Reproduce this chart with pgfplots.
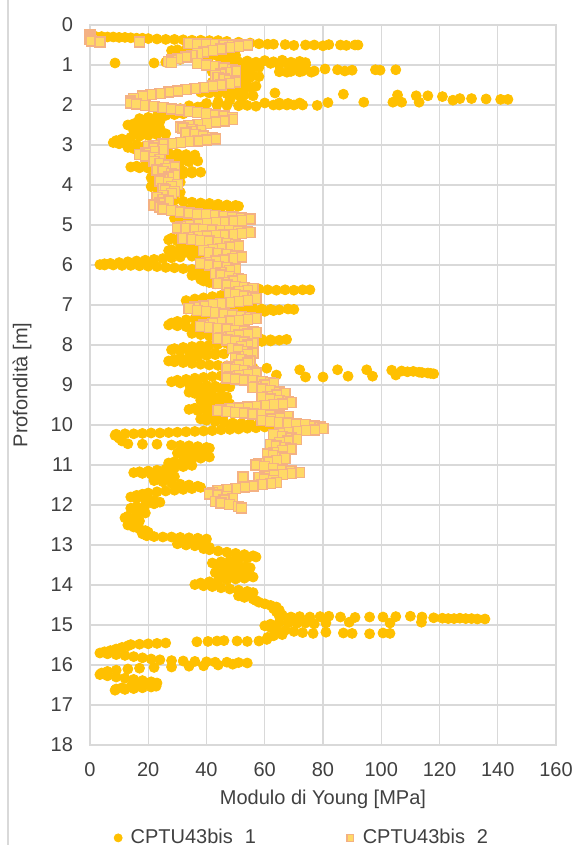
\documentclass[border=0pt]{standalone}
\usepackage{pgfplots}
\pgfplotsset{compat=1.18}
\usepackage{fontspec}
\setmainfont{Liberation Sans}
\definecolor{sone}{HTML}{FFC000}
\definecolor{stwofill}{HTML}{FFD966}
\definecolor{stwoedge}{HTML}{F4B183}
\definecolor{gridc}{HTML}{D9D9D9}
\definecolor{txt}{HTML}{404040}
\begin{document}
\begin{tikzpicture}
\useasboundingbox (-45pt,-50pt) rectangle (243pt,372.5pt);
\draw[gridc, line width=0.6pt] (-41pt,-50pt) -- (-41pt,372.5pt);
\begin{axis}[
 at={(0,0)}, anchor=south west,
 scale only axis, width=233pt, height=360pt,
 xmin=0, xmax=160, ymin=0, ymax=18, y dir=reverse,
 xtick={0,20,...,160}, ytick={0,1,...,18},
 grid=major, major grid style={draw=gridc, line width=0.6pt},
 axis line style={draw=gridc, line width=0.6pt},
 tick style={draw=none},
 /pgf/number format/assume math mode=true,
 ticklabel style={font=\fontsize{10}{12}\selectfont, text=txt},
 xticklabel style={yshift=-5pt},
 yticklabel style={xshift=-5pt},
 xlabel={Modulo di Young [MPa]}, ylabel={Profondità [m]},
 label style={font=\fontsize{10}{12}\selectfont, text=txt},
 xlabel style={at={(axis description cs:0.5,0)}, anchor=center, yshift=-27pt},
 ylabel style={at={(axis description cs:0,0.5)}, anchor=center, yshift=34pt},
 legend columns=2,
 legend style={at={(axis description cs:0.457,-0.129)}, anchor=center, draw=none, fill=none,
   font=\fontsize{10}{12}\selectfont, text=txt,
   /tikz/every even column/.append style={column sep=43pt}},
 legend image code/.code={\draw[#1] plot coordinates {(0pt,0pt)}; \path (-2pt,0pt) (4pt,0pt);},
 legend cell align=left,
]
\addplot[only marks, mark=*, mark size=2.5pt, mark options={draw=sone, fill=sone}, legend image post style={mark size=2pt}] table {
x y
0 0.28
1 0.28
2 0.29
4 0.29
6 0.30
8 0.30
10 0.31
12 0.31
14 0.32
16 0.33
18 0.33
20 0.34
23 0.35
26 0.36
29 0.36
32 0.37
35 0.38
38 0.38
41 0.39
44 0.39
47 0.41
51 0.43
55 0.45
58 0.47
61 0.48
63 0.48
67 0.49
70 0.51
74 0.50
77 0.50
80 0.52
82 0.49
86 0.50
88 0.51
91 0.50
92 0.50
48 0.55
45 0.56
42 0.57
39 0.58
36 0.60
33 0.61
30 0.62
28 0.64
30 0.66
33 0.67
36 0.69
39 0.70
42 0.71
45 0.73
48 0.74
50 0.76
47 0.77
44 0.78
41 0.79
38 0.80
35 0.81
32 0.82
29 0.84
31 0.86
8.6 0.95
22 0.95
26 0.93
45 0.90
48 0.88
51 0.92
54 0.90
57 0.93
60 0.89
63 0.92
66 0.88
69 0.93
72 0.91
74 0.94
55 0.97
58 1.00
62 0.96
65 1.00
68 0.98
71 1.02
74 1.00
65 1.17
67.6 1.18
69 1.16
72 1.17
73 1.15
76 1.18
77 1.15
80.7 1.10
85 1.12
87.5 1.15
90 1.13
98 1.12
99.6 1.13
105 1.12
50 1.00
53 1.02
56 1.04
58 1.06
55 1.08
52 1.10
49 1.11
46 1.13
43 1.15
42 1.17
44 1.19
47 1.20
50 1.22
53 1.24
56 1.26
58 1.29
55 1.31
52 1.33
49 1.35
46 1.38
43 1.40
42 1.43
45 1.45
48 1.47
51 1.49
54 1.51
57 1.53
55 1.56
52 1.58
49 1.60
46 1.62
43 1.64
40 1.66
38 1.68
41 1.70
44 1.71
47 1.72
50 1.73
53 1.75
56 1.77
63.5 1.70
60 1.95
65 1.95
68 1.96
72 1.95
81.7 1.94
87 1.73
94 1.93
104 1.93
105.6 1.75
107 1.93
112 1.77
113 1.93
116 1.77
121 1.79
124.6 1.88
127 1.84
131 1.84
136 1.85
141 1.86
143.5 1.86
34 2.02
39 2.03
43.6 2.00
47 2.01
51 2.02
54 2.01
57 2.03
63 2.00
65 2.00
67.6 2.00
70 2.00
73 2.00
78 2.01
52 1.85
48 1.88
44 1.92
40 1.96
37 2.05
34 2.07
31 2.09
28 2.12
25 2.15
27 2.18
30 2.20
32 2.22
29 2.24
26 2.26
23 2.28
20 2.31
17 2.34
19 2.37
22 2.39
24 2.41
21 2.43
18 2.45
15 2.47
13 2.50
15 2.52
18 2.54
21 2.56
24 2.58
21 2.60
18 2.62
15 2.64
17 2.66
20 2.68
23 2.70
26 2.72
23 2.74
20 2.76
17 2.78
14 2.81
11 2.85
9 2.89
8 2.94
10 2.97
13 2.99
16 3.00
19 3.02
16 3.04
13 3.06
15 3.09
18 3.12
21 3.15
24 3.18
27 3.20
30 3.22
33 3.24
36 3.25
33 3.27
30 3.29
27 3.31
25 3.33
28 3.35
31 3.36
34 3.38
37 3.40
34 3.42
31 3.43
28 3.45
25 3.47
22 3.49
19 3.51
16 3.53
14 3.55
17 3.57
20 3.58
23 3.60
26 3.61
29 3.63
32 3.65
35 3.66
38 3.68
35 3.70
32 3.72
29 3.74
26 3.76
23 3.79
21 3.82
23 3.85
26 3.88
29 3.91
31 3.93
28 3.96
25 3.98
22 4.01
21 4.04
23 4.07
26 4.10
29 4.14
31 4.18
28 4.22
25 4.26
24 4.30
26 4.34
29 4.38
32 4.41
35 4.43
38 4.45
41 4.46
44 4.48
47 4.50
50 4.51
51 4.53
48 4.55
45 4.56
42 4.57
39 4.59
36 4.60
33 4.62
30 4.64
28 4.66
30 4.69
33 4.72
35 4.75
32 4.79
29 4.83
31 4.88
34 4.93
36 4.98
34 5.03
32 5.08
34 5.13
36 5.17
37 5.21
34 5.25
31 5.29
28 5.33
27 5.37
30 5.40
33 5.43
36 5.46
39 5.49
40 5.51
37 5.54
34 5.57
31 5.60
28 5.62
27 5.64
30 5.66
33 5.68
36 5.70
39 5.72
41 5.74
38 5.76
35 5.78
31 5.80
28 5.82
25 5.84
22 5.86
19 5.88
16 5.90
13 5.92
10 5.94
7 5.96
5 5.97
3.4 5.99
5 6.00
8 6.00
11 6.01
14 6.01
17 6.02
20 6.03
23 6.04
26 6.06
29 6.07
32 6.09
35 6.11
38 6.13
41 6.15
42 6.17
39 6.20
36 6.23
35 6.26
38 6.29
40 6.32
38 6.36
39 6.40
41 6.44
43 6.47
46 6.50
49 6.53
52 6.56
55 6.58
58 6.60
61 6.62
64 6.63
67 6.62
70 6.63
73 6.62
75.5 6.62
57 6.65
54 6.68
51 6.71
48 6.74
45 6.76
42 6.79
39 6.82
36 6.85
33 6.89
35 6.93
38 6.97
41 7.00
44 7.02
47 7.04
50 7.06
53 7.07
56 7.08
59 7.10
62 7.11
65 7.12
68 7.10
70 7.11
63 7.14
60 7.16
57 7.18
54 7.20
51 7.21
48 7.23
45 7.25
42 7.28
39 7.31
36 7.34
33 7.37
30 7.41
28 7.45
27 7.50
30 7.52
33 7.54
36 7.55
39 7.56
42 7.57
45 7.58
43 7.61
40 7.64
37 7.67
35 7.71
38 7.74
41 7.77
44 7.79
47 7.81
50 7.83
53 7.84
56 7.85
59 7.86
62 7.87
65 7.88
67.5 7.86
62 7.90
59 7.91
56 7.92
53 7.93
50 7.95
47 7.96
44 7.98
41 8.00
38 8.02
35 8.04
32 8.06
29 8.09
28 8.12
31 8.14
34 8.16
37 8.18
40 8.19
43 8.20
46 8.22
43 8.24
40 8.26
37 8.28
34 8.30
31 8.33
29 8.36
27 8.40
29 8.42
32 8.44
35 8.46
38 8.48
41 8.50
44 8.51
47 8.52
50 8.54
53 8.55
56 8.57
60.7 8.58
64 8.75
72 8.62
74 8.80
80 8.80
85 8.62
88.6 8.78
95 8.62
97 8.78
103.6 8.63
105 8.75
107 8.65
109 8.67
111 8.66
113 8.68
114 8.69
116 8.70
117 8.71
118 8.72
55 8.70
51 8.73
48 8.75
45 8.77
42 8.79
39 8.81
36 8.83
33 8.86
30 8.88
28 8.92
31 8.95
34 8.97
37 8.99
40 9.01
43 9.03
46 9.04
48 9.05
45 9.08
42 9.11
39 9.13
36 9.15
34 9.18
36 9.21
39 9.23
42 9.26
45 9.28
47 9.30
44 9.33
41 9.35
38 9.38
40 9.41
43 9.43
46 9.45
48 9.47
45 9.50
42 9.53
39 9.55
36 9.58
34 9.61
37 9.64
40 9.67
43 9.70
46 9.73
44 9.77
41 9.81
38 9.85
40 9.88
43 9.91
46 9.93
49 9.95
52 9.96
55 9.97
58 9.98
61 10.00
63 10.03
60 10.05
57 10.07
54 10.08
51 10.10
48 10.11
45 10.12
42 10.14
39 10.15
36 10.16
33 10.17
30 10.18
27 10.19
24 10.20
21 10.20
18 10.21
15 10.22
12 10.22
9 10.23
8.6 10.26
10 10.33
11 10.40
13 10.47
18 10.48
23 10.48
28 10.50
31 10.51
34 10.52
37 10.54
40 10.56
41 10.58
38 10.61
35 10.64
32 10.67
30 10.70
33 10.73
36 10.76
39 10.78
41 10.80
38 10.83
35 10.86
32 10.89
29 10.92
27 10.95
30 10.97
33 10.99
35 11.01
32 11.04
29 11.07
26 11.10
23 11.13
20 11.15
17 11.17
15 11.19
18 11.21
21 11.23
24 11.25
27 11.27
29 11.29
26 11.32
23 11.36
22 11.39
25 11.42
28 11.45
31 11.48
34 11.50
37 11.53
38 11.56
35 11.59
32 11.61
29 11.63
26 11.65
23 11.67
20 11.70
18 11.73
16 11.76
14 11.80
16 11.83
19 11.86
22 11.89
24 11.93
22 11.97
19 12.00
16 12.04
14 12.08
16 12.12
18 12.16
19 12.20
16 12.24
13 12.28
12 12.32
14 12.36
17 12.40
15 12.45
13 12.50
15 12.55
17 12.60
19 12.64
20 12.68
18 12.72
19.5 12.77
22 12.79
25 12.80
28 12.80
31 12.81
34 12.82
37 12.83
40 12.85
37 12.88
34 12.91
31 12.94
30 12.97
33 13.00
36 13.02
39 13.04
41 13.06
39 13.09
41 13.12
44 13.15
47 13.18
50 13.21
53 13.24
56 13.27
57 13.30
54 13.33
51 13.36
48 13.39
45 13.42
42 13.45
44 13.48
47 13.50
50 13.52
53 13.55
55 13.57
52 13.60
49 13.63
46 13.66
43 13.69
45 13.72
48 13.74
51 13.76
54 13.78
56 13.80
53 13.83
50 13.85
47 13.87
44 13.89
41 13.92
38 13.95
36 13.99
39 14.02
42 14.04
45 14.07
48 14.10
51 14.13
54 14.16
56 14.19
54 14.23
51 14.27
53 14.31
56 14.35
57 14.39
58 14.43
60 14.47
62 14.51
64 14.55
63 14.59
65 14.63
64 14.67
65 14.71
66 14.75
65 14.78
69 14.80
72 14.79
75.5 14.80
79 14.79
82 14.78
86 14.80
91 14.81
96 14.80
100.6 14.80
105 14.79
110 14.78
114 14.80
118 14.82
121 14.83
123 14.84
125 14.84
127 14.83
129 14.84
131 14.84
133 14.85
135.6 14.85
65 14.93
68 14.95
71 14.96
74 14.95
77 14.97
81 14.95
89 14.93
103 14.95
113.8 14.93
62 14.98
60 15.02
62 15.06
64 15.10
67 15.13
70 15.16
73 15.19
76.6 15.21
81 15.18
87 15.20
90 15.21
96 15.22
100.6 15.20
103 15.21
66 15.24
63 15.27
61 15.31
60.7 15.36
58 15.40
54 15.41
50.5 15.40
46 15.39
43.6 15.40
40.5 15.41
36.7 15.42
26 15.45
23 15.46
20 15.47
17 15.48
14 15.49
13 15.52
11 15.56
9 15.60
7 15.64
5 15.67
3.4 15.70
6 15.72
9 15.74
12 15.76
15 15.79
18 15.82
21 15.85
24 15.87
28 15.89
32 15.90
36 15.91
40 15.92
43 15.93
47 15.93
51 15.94
54 15.95
49 15.98
44 16.00
39 16.02
34 16.03
28 16.05
22 16.06
17 16.08
13 16.10
9 16.13
6 16.16
4 16.20
3.4 16.24
6 16.27
9 16.30
12 16.33
15 16.36
18 16.39
21 16.42
23 16.45
20 16.48
17 16.51
14 16.54
11 16.57
9 16.60
8.6 16.63
12 16.61
15 16.59
18 16.57
21 16.55
22.7 16.53
};
\addlegendentry{CPTU43bis\hspace{0.6em}1}
\addplot[only marks, mark=square*, mark size=2.5pt, mark options={fill=stwofill, draw=stwoedge, line width=0.7pt}, legend image post style={mark size=1.7pt}] table {
x y
0 0.25
0 0.30
0 0.35
0.5 0.40
3.4 0.43
17 0.43
34 0.47
37 0.48
40 0.48
43 0.49
46 0.50
49 0.50
52 0.50
54 0.50
51 0.54
48 0.57
45 0.60
42 0.64
39 0.68
37 0.72
35 0.76
33 0.80
30 0.84
28 0.88
27 0.91
28 0.94
37 0.97
40 1.00
43 1.04
46 1.08
49 1.12
50 1.15
47 1.19
45 1.23
43 1.27
44 1.31
46 1.35
48 1.39
50 1.43
48 1.47
45 1.50
42 1.53
39 1.56
36 1.59
33 1.62
30 1.65
27 1.68
24 1.71
21 1.74
18 1.78
15 1.84
14 1.90
14 1.95
16 1.98
19 2.01
22 2.04
25 2.07
28 2.10
31 2.13
34 2.16
37 2.19
40 2.22
43 2.25
46 2.28
49 2.31
49 2.36
46 2.40
43 2.43
40 2.46
37 2.49
34 2.52
31 2.55
32 2.58
35 2.61
38 2.64
35 2.67
33 2.70
36 2.74
39 2.78
42 2.82
43 2.85
40 2.88
37 2.90
34 2.92
31 2.94
28 2.96
25 2.98
22 3.01
20 3.04
22 3.08
25 3.12
22 3.16
19 3.20
17 3.24
19 3.28
22 3.32
24 3.36
22 3.41
24 3.46
27 3.50
29 3.55
26 3.59
23 3.63
25 3.67
28 3.71
29 3.75
27 3.80
25 3.85
24 3.90
27 3.94
30 3.98
28 4.03
25 4.08
26 4.12
29 4.16
28 4.21
25 4.26
23 4.31
25 4.36
27 4.40
24 4.45
22 4.50
24 4.55
25 4.60
28 4.64
31 4.67
34 4.70
37 4.72
40 4.74
43 4.76
46 4.78
49 4.80
52 4.82
55 4.85
52 4.88
49 4.90
46 4.92
43 4.94
40 4.96
37 4.98
34 5.01
31 5.04
30 5.07
33 5.09
36 5.10
39 5.11
42 5.12
45 5.13
48 5.14
51 5.15
54 5.17
55 5.19
52 5.21
49 5.23
46 5.25
43 5.26
40 5.27
37 5.29
34 5.31
32 5.33
35 5.36
38 5.38
41 5.40
44 5.43
47 5.46
50 5.49
51 5.52
48 5.55
45 5.58
42 5.61
39 5.64
41 5.68
44 5.71
47 5.74
50 5.77
52 5.80
49 5.84
46 5.87
43 5.90
40 5.93
38 5.96
41 6.00
44 6.03
47 6.06
50 6.10
48 6.14
45 6.18
43 6.21
45 6.25
48 6.29
51 6.33
52 6.36
49 6.40
46 6.43
44 6.46
47 6.50
50 6.53
53 6.56
56 6.59
54 6.63
51 6.66
48 6.70
50 6.74
53 6.77
56 6.80
57 6.84
54 6.88
51 6.91
48 6.94
45 6.96
42 6.99
39 7.02
36 7.05
34 7.09
37 7.13
40 7.16
43 7.19
46 7.22
49 7.25
52 7.28
55 7.31
57 7.33
54 7.36
51 7.38
48 7.40
45 7.43
42 7.46
39 7.50
38 7.53
41 7.56
44 7.58
47 7.60
50 7.63
53 7.65
56 7.67
57 7.69
54 7.72
51 7.75
48 7.78
45 7.81
44 7.84
47 7.87
50 7.90
53 7.92
56 7.96
54 8.00
52 8.04
49 8.08
51 8.12
54 8.16
56 8.20
54 8.24
51 8.28
50 8.32
52 8.36
55 8.40
54 8.45
51 8.50
48 8.55
47 8.58
50 8.61
53 8.64
56 8.67
57 8.70
54 8.73
51 8.76
48 8.79
47 8.82
50 8.85
53 8.87
56 8.89
59 8.91
62 8.93
63 8.96
60 9.00
57 9.03
56 9.06
59 9.10
62 9.14
65 9.17
67 9.21
64 9.25
61 9.28
59 9.31
62 9.35
65 9.38
68 9.41
69 9.44
66 9.47
63 9.49
60 9.51
57 9.53
54 9.55
51 9.57
48 9.59
45 9.62
44 9.64
47 9.66
50 9.68
53 9.70
56 9.72
59 9.73
62 9.75
65 9.77
68 9.79
65 9.82
62 9.85
59 9.88
62 9.91
65 9.93
68 9.95
71 9.97
74 9.99
77 10.02
79 10.05
80 10.09
77 10.12
74 10.14
71 10.16
68 10.18
65 10.20
63 10.24
66 10.28
69 10.32
71 10.36
68 10.40
65 10.44
62 10.48
64 10.52
67 10.56
69 10.60
66 10.64
63 10.68
61 10.72
63 10.76
66 10.80
67 10.84
64 10.88
61 10.92
58 10.96
57 11.00
60 11.04
63 11.08
66 11.12
69 11.15
72 11.18
69 11.21
66 11.23
63 11.25
60 11.27
58 11.31
60 11.35
63 11.39
64 11.43
62 11.46
59 11.49
56 11.52
53 11.55
50 11.58
47 11.61
44 11.64
42 11.68
41 11.72
44 11.75
47 11.79
49 11.83
46 11.87
43 11.91
45 11.95
48 11.99
51 12.03
52 12.07
52.5 11.30
};
\addlegendentry{CPTU43bis\hspace{0.6em}2}
\end{axis}
\end{tikzpicture}
\end{document}
